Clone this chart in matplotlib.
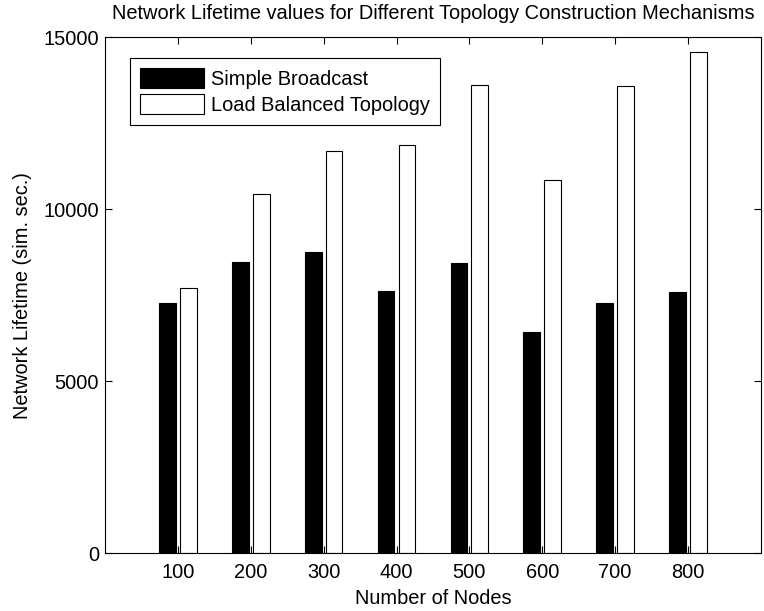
import matplotlib
matplotlib.use('Agg')
import matplotlib.pyplot as plt
import numpy as np

plt.rcParams['font.family'] = ['Liberation Sans', 'DejaVu Sans']

nodes = [100, 200, 300, 400, 500, 600, 700, 800]
simple_broadcast = [7290, 8470, 8760, 7630, 8450, 6430, 7280, 7600]
load_balanced = [7700, 10450, 11700, 11870, 13600, 10850, 13580, 14570]

fs = 14.4

fig = plt.figure(figsize=(7.64, 6.11), dpi=100)
ax = fig.add_axes([0.1374, 0.0944, 0.8586, 0.8446])

x = np.array(nodes, dtype=float)
width = 23
offset = 14.3
ax.bar(x - offset, simple_broadcast, width, color='black', edgecolor='black',
       linewidth=0.8, label='Simple Broadcast')
ax.bar(x + offset, load_balanced, width, color='white', edgecolor='black',
       linewidth=0.8, label='Load Balanced Topology')

ax.set_xlim(0, 900)
ax.set_ylim(0, 15000)
ax.set_xticks(nodes)
ax.set_yticks([0, 5000, 10000, 15000])
ax.tick_params(direction='in', length=5, width=0.8, top=True, right=True,
               labelsize=fs)
ax.tick_params(axis='x', pad=7)
ax.tick_params(axis='y', pad=4.3)
for s in ax.spines.values():
    s.set_linewidth(0.8)

ax.set_xlabel('Number of Nodes', fontsize=fs, labelpad=5)
ax.set_ylabel('Network Lifetime (sim. sec.)', fontsize=fs, labelpad=8.5)
ax.set_title('Network Lifetime values for Different Topology Construction Mechanisms',
             fontsize=fs, pad=13)

leg = ax.legend(loc='upper left', bbox_to_anchor=(0.038, 0.9605), fontsize=fs,
                fancybox=False, framealpha=1, edgecolor='black',
                handlelength=3.2, handleheight=1.2, borderpad=0.5,
                labelspacing=0.25, handletextpad=0.37, borderaxespad=0)
leg.get_frame().set_linewidth(0.8)

fig.savefig('out.png', dpi=100)
